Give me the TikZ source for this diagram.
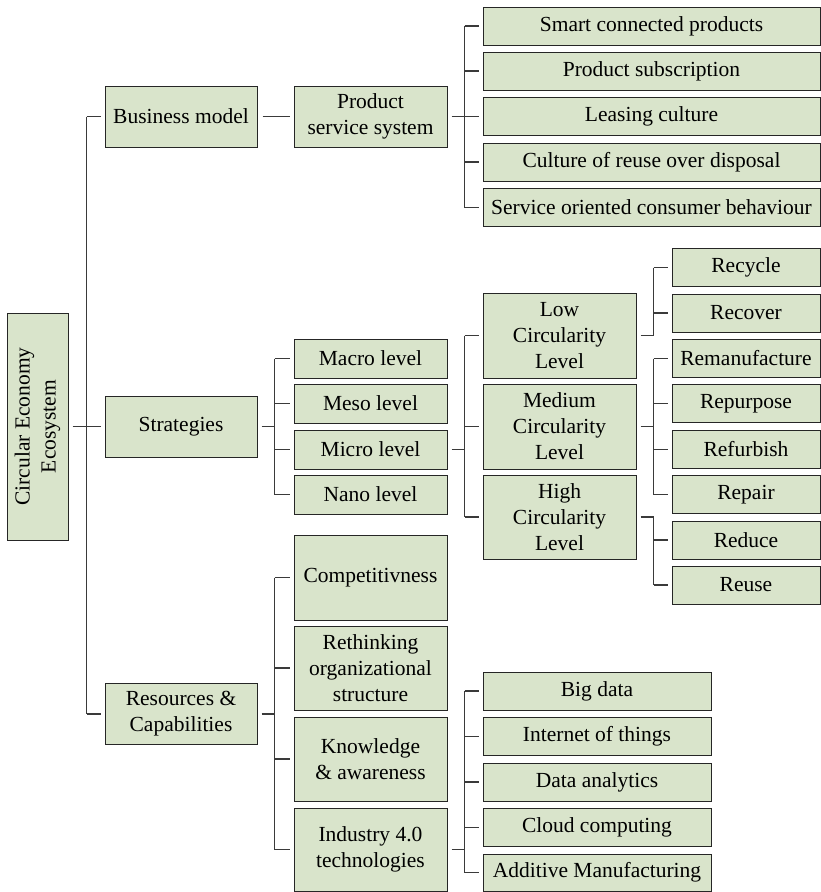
\documentclass[tikz,border=0pt]{standalone}
\usepackage{fontspec}
\setmainfont{Liberation Serif}
\definecolor{boxgreen}{HTML}{D9E4CB}
\definecolor{linegray}{HTML}{3A3A3A}
\tikzset{
  bx/.style={draw=black!85, fill=boxgreen, line width=1pt, inner sep=0pt, align=center,
    font=\fontsize{21.5}{26}\selectfont},
  conn/.style={draw=linegray, line width=1.2pt},
}
\newcommand\brkat[6]{% parent anchor point, name, length, first child, last child, all children
  \draw[conn] ([xshift=4pt]#1) -- ++(#3,0) coordinate (#2j);
  \draw[conn] (#2j |- #4.west) -- (#2j) -- (#2j |- #5.west);
  \foreach \c in {#6} { \draw[conn] (#2j |- \c.west) -- ([xshift=-4pt]\c.west); }
}
\newcommand\brk[5]{\brkat{#1.east}{#1}{#2}{#3}{#4}{#5}}
\begin{document}
\begin{tikzpicture}[x=1pt,y=-1pt]
\useasboundingbox (0,0) rectangle (821,892);
% root
\node[bx, rotate=90, minimum width=227pt, minimum height=61pt] (root) at (37.5,426.5) {Circular Economy\\Ecosystem};
% level 1
\node[bx, minimum width=152pt, minimum height=61pt] (bm) at (181,116.5) {Business model};
\node[bx, minimum width=152pt, minimum height=61pt] (st) at (181,426.5) {Strategies};
\node[bx, minimum width=152pt, minimum height=61pt] (rc) at (181,714) {Resources \&\\Capabilities};
% level 2
\node[bx, minimum width=153pt, minimum height=61pt] (pss) at (370.5,116.5) {Product\\service system};
\node[bx, minimum width=153pt, minimum height=39pt] (macro) at (370.5,358.5) {Macro level};
\node[bx, minimum width=153pt, minimum height=39pt] (meso) at (370.5,403.5) {Meso level};
\node[bx, minimum width=153pt, minimum height=39pt] (micro) at (370.5,449.5) {Micro level};
\node[bx, minimum width=153pt, minimum height=39pt] (nano) at (370.5,494.5) {Nano level};
\node[bx, minimum width=153pt, minimum height=85pt] (comp) at (370.5,577.5) {Competitivness};
\node[bx, minimum width=153pt, minimum height=84pt] (reth) at (370.5,668) {Rethinking\\organizational\\structure};
\node[bx, minimum width=153pt, minimum height=84pt] (know) at (370.5,759) {Knowledge\\\& awareness};
\node[bx, minimum width=153pt, minimum height=83pt] (ind) at (370.5,849.5) {Industry 4.0\\technologies};
% PSS children
\node[bx, minimum width=337pt, minimum height=38pt] (p1) at (651.5,26) {Smart connected products};
\node[bx, minimum width=337pt, minimum height=38pt] (p2) at (651.5,71) {Product subscription};
\node[bx, minimum width=337pt, minimum height=38pt] (p3) at (651.5,116.5) {Leasing culture};
\node[bx, minimum width=337pt, minimum height=38pt] (p4) at (651.5,162) {Culture of reuse over disposal};
\node[bx, minimum width=337pt, minimum height=38pt] (p5) at (651.5,207.5) {Service oriented consumer behaviour};
% circularity levels
\node[bx, minimum width=153pt, minimum height=85pt] (low) at (559.5,335.5) {Low\\Circularity\\Level};
\node[bx, minimum width=153pt, minimum height=85pt] (med) at (559.5,426.5) {Medium\\Circularity\\Level};
\node[bx, minimum width=153pt, minimum height=84pt] (high) at (559.5,517) {High\\Circularity\\Level};
% R strategies
\node[bx, minimum width=148pt, minimum height=38pt] (r1) at (746,267.5) {Recycle};
\node[bx, minimum width=148pt, minimum height=38pt] (r2) at (746,313) {Recover};
\node[bx, minimum width=148pt, minimum height=38pt] (r3) at (746,358.5) {Remanufacture};
\node[bx, minimum width=148pt, minimum height=38pt] (r4) at (746,403.5) {Repurpose};
\node[bx, minimum width=148pt, minimum height=38pt] (r5) at (746,449.5) {Refurbish};
\node[bx, minimum width=148pt, minimum height=38pt] (r6) at (746,494.5) {Repair};
\node[bx, minimum width=148pt, minimum height=38pt] (r7) at (746,540) {Reduce};
\node[bx, minimum width=148pt, minimum height=38pt] (r8) at (746,585) {Reuse};
% technologies
\node[bx, minimum width=228pt, minimum height=38pt] (t1) at (597,691) {Big data};
\node[bx, minimum width=228pt, minimum height=38pt] (t2) at (597,736.5) {Internet of things};
\node[bx, minimum width=228pt, minimum height=38pt] (t3) at (597,782) {Data analytics};
\node[bx, minimum width=228pt, minimum height=38pt] (t4) at (597,827.5) {Cloud computing};
\node[bx, minimum width=228pt, minimum height=37pt] (t5) at (597,872.5) {Additive Manufacturing};
% connectors
\brkat{root.south}{root}{14}{bm}{rc}{bm,st,rc}
\draw[conn] ([xshift=5pt]bm.east) -- ([xshift=-4pt]pss.west);
\brk{st}{13}{macro}{nano}{macro,meso,micro,nano}
\brk{rc}{13}{comp}{ind}{comp,reth,know,ind}
\brk{pss}{13}{p1}{p5}{p1,p2,p3,p4,p5}
\brk{micro}{13}{low}{high}{low,med,high}
\brk{low}{13}{r1}{r2}{r1,r2}
\brk{med}{13}{r3}{r6}{r3,r4,r5,r6}
\brk{high}{13}{r7}{r8}{r7,r8}
\brk{ind}{13}{t1}{t5}{t1,t2,t3,t4,t5}
\end{tikzpicture}
\end{document}
